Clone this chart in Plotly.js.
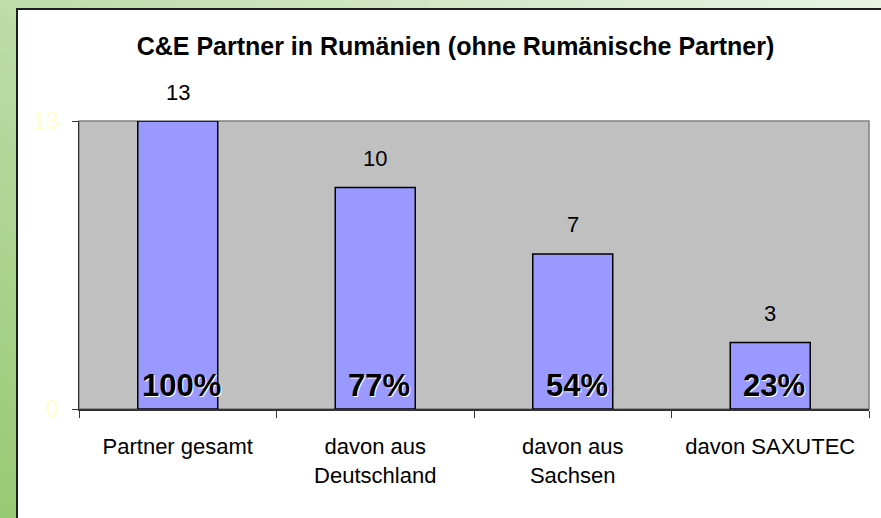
<!DOCTYPE html>
<html>
<head>
<meta charset="utf-8">
<script src="https://cdn.plot.ly/plotly-3.0.1.min.js"></script>
<style>
  html, body { margin: 0; padding: 0; }
  #wrap { position: relative; width: 881px; height: 518px; overflow: hidden;
          background: linear-gradient(to bottom left, #e8f3e4 0%, #bddda9 50%, #98c974 100%); }
  #box { position: absolute; left: 16px; top: 8px; width: 900px; height: 600px;
         background: #ffffff; border: 2px solid #1e1e1e; box-sizing: border-box; }
  #chart { position: absolute; left: 0; top: 0; width: 881px; height: 518px; }
</style>
</head>
<body>
<div id="wrap">
  <div id="box"></div>
  <div id="chart"></div>
</div>
<script>
const categories = ["Partner gesamt", "davon aus<br>Deutschland", "davon aus<br>Sachsen", "davon SAXUTEC"];
const values = [13, 10, 7, 3];
const percentLabels = ["100%", "77%", "54%", "23%"];
const yTicks = [0, 13];
const chartTitle = "C&E Partner in Rumänien (ohne Rumänische Partner)";

const FONT = "Liberation Sans, Arial, sans-serif";

const trace = {
  type: "bar",
  x: categories,
  y: values,
  width: 0.405,
  marker: { color: "#9999ff", line: { color: "#000000", width: 1.5 } },
  hoverinfo: "none"
};

const annotations = [];
categories.forEach((c, i) => {
  annotations.push({
    x: c, y: values[i], xref: "x", yref: "y",
    text: String(values[i]), showarrow: false,
    yanchor: "middle", yshift: 29,
    font: { family: FONT, size: 22, color: "#000000" }
  });
  annotations.push({
    x: c, y: 0, xref: "x", yref: "y",
    text: percentLabels[i], showarrow: false,
    yanchor: "middle", yshift: 24, xshift: 4,
    font: { family: FONT, size: 31, color: "#000000", weight: "bold", shadow: "1px 1px 0px #ffffff" }
  });
});

const layout = {
  width: 881, height: 518,
  margin: { l: 79, r: 12, t: 121, b: 109, pad: 0 },
  paper_bgcolor: "rgba(0,0,0,0)",
  plot_bgcolor: "#c0c0c0",
  showlegend: false,
  title: {
    text: chartTitle,
    x: 0.517, xref: "container", xanchor: "center",
    y: 1 - 46 / 518, yref: "container", yanchor: "middle",
    font: { family: FONT, size: 25, color: "#000000", weight: "bold" }
  },
  xaxis: {
    type: "category",
    showgrid: false, zeroline: false,
    showline: true, linecolor: "#333333", linewidth: 1.5,
    ticks: "outside", tickson: "boundaries", ticklen: 7, tickcolor: "#333333", tickwidth: 1,
    ticklabelstandoff: 17,
    tickfont: { family: FONT, size: 22, color: "#000000" },
    fixedrange: true
  },
  yaxis: {
    range: [0, 13],
    tickvals: yTicks,
    ticktext: yTicks.map(String),
    showgrid: false, zeroline: false,
    showline: true, linecolor: "#333333", linewidth: 1.5,
    ticks: "outside", ticklen: 6, tickcolor: "#333333", tickwidth: 1,
    ticklabelstandoff: 8,
    tickfont: { family: FONT, size: 23, color: "#ffffcc" },
    fixedrange: true
  },
  shapes: [{
    type: "rect", xref: "paper", yref: "paper", x0: 0, x1: 1, y0: 0, y1: 1,
    line: { color: "#808080", width: 1.5 }, layer: "below"
  }],
  annotations: annotations
};

Plotly.newPlot("chart", [trace], layout, { displayModeBar: false, staticPlot: true });
</script>
</body>
</html>
